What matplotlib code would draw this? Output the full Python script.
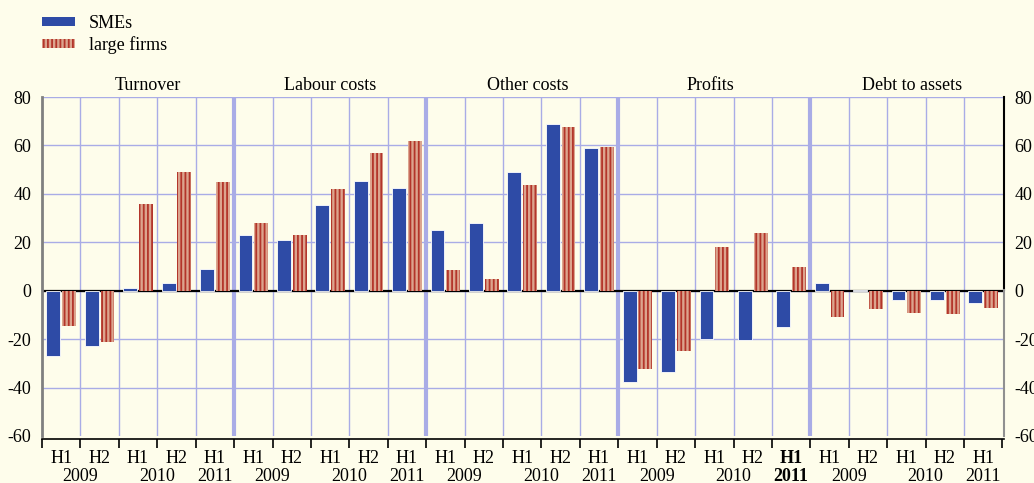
import matplotlib.pyplot as plt
from matplotlib.patches import Patch
import matplotlib.transforms as mtransforms

plt.rcParams['font.family'] = ['Liberation Serif', 'DejaVu Serif']
plt.rcParams['hatch.linewidth'] = 1.3
plt.rcParams['axes.unicode_minus'] = False

panels = ["Turnover", "Labour costs", "Other costs", "Profits", "Debt to assets"]
halves = ["H1", "H2", "H1", "H2", "H1"]
years = ["2009", "2010", "2011"]

# values per panel, periods 2009H1 .. 2011H1
smes = [
    [-27, -23, 1, 3, 9],
    [23, 21, 35.5, 45.5, 42.5],
    [25, 28, 49, 69, 59],
    [-37.5, -33.5, -20, -20.5, -15],
    [3, 0.5, -4, -4, -5],
]
large = [
    [-14.5, -21, 36, 49, 45],
    [28, 23, 42, 57, 62],
    [8.5, 5, 43.5, 67.5, 59.5],
    [-32.5, -25, 18, 24, 10],
    [-11, -7.5, -9, -9.5, -7],
]

blue = '#2E4BA6'
salmon = '#DCA48E'
darkred = '#B3352A'
grid = '#A9ACE6'
bg = '#FEFDEB'

sme_vals = [v for row in smes for v in row]
large_vals = [v for row in large for v in row]
x = list(range(len(sme_vals)))

fig = plt.figure(figsize=(10.34, 4.83), dpi=100, facecolor=bg)
ax = fig.add_axes([42 / 1034, 47 / 483, 962 / 1034, 339 / 483], facecolor=bg)

# grid
for y in range(-40, 81, 20):
    ax.axhline(y, color=grid, lw=1, zorder=0)
for b in range(24):
    lw = 3 if b in (4, 9, 14, 19) else 1
    ax.axvline(b + 0.5, color=grid, lw=lw, zorder=0)
ax.axhline(0, color='black', lw=1.6, zorder=1)

w = 0.36
ax.bar([i - 0.205 for i in x], sme_vals, w, color=blue, edgecolor='white',
       linewidth=0.6, zorder=2)
ax.bar([i + 0.205 for i in x], large_vals, w, facecolor=salmon, edgecolor=darkred,
       hatch='||||', linewidth=0, zorder=2)

ax.set_xlim(-0.435, 24.54)
ax.set_ylim(-60, 80)
ax.set_yticks(range(-60, 81, 20))
ax.tick_params(axis='y', left=False, right=False, labelleft=True, labelright=True,
               labelsize=13)
ax.tick_params(axis='y', which='major', pad=4)
for lab in ax.get_yticklabels():
    pass

ax.spines['top'].set_visible(False)
ax.spines['right'].set_visible(False)
ax.spines['left'].set_color('#808080')
ax.spines['left'].set_linewidth(2)
ax.plot([1, 1], [0.43, 1], transform=ax.transAxes, color='black', lw=1.5, clip_on=False)
ax.plot([1, 1], [0, 0.43], transform=ax.transAxes, color='#909090', lw=1.5, clip_on=False)

ax.spines['bottom'].set_position(('outward', 2))
ax.spines['bottom'].set_linewidth(1.2)
ax.set_xticks([b + 0.5 for b in range(-1, 25)])
ax.set_xticklabels([])
ax.tick_params(axis='x', direction='out', length=6.5, width=1.2, colors='black')

trans = mtransforms.blended_transform_factory(ax.transData, ax.transAxes)
title_shift = [0.25, 0.0, 0.15, -0.1, 0.15]
for p, name in enumerate(panels):
    ax.text(p * 5 + 2 + title_shift[p], 1.035, name, transform=trans,
            ha='center', va='center', fontsize=13)
    for k, h in enumerate(halves):
        bold = 'bold' if (p == 3 and k == 4) else 'normal'
        ax.text(p * 5 + k, -0.065, h, transform=trans, ha='center', va='center',
                fontsize=13, fontweight=bold)
    for xc, yr in zip([0.5, 2.5, 4], years):
        bold = 'bold' if (p == 3 and yr == '2011') else 'normal'
        ax.text(p * 5 + xc, -0.118, yr, transform=trans, ha='center', va='center',
                fontsize=13, fontweight=bold)

handles = [Patch(facecolor=blue, edgecolor='none', label='SMEs'),
           Patch(facecolor=salmon, edgecolor=darkred, hatch='||||', linewidth=0,
                 label='large firms')]
fig.legend(handles=handles, loc='upper left', bbox_to_anchor=(33 / 1034, 1 - 6 / 483),
           frameon=False, fontsize=13, handlelength=1.85, handleheight=0.4,
           handletextpad=0.75, labelspacing=0.2, borderpad=0)

fig.savefig('out.png', dpi=100, facecolor=bg)
